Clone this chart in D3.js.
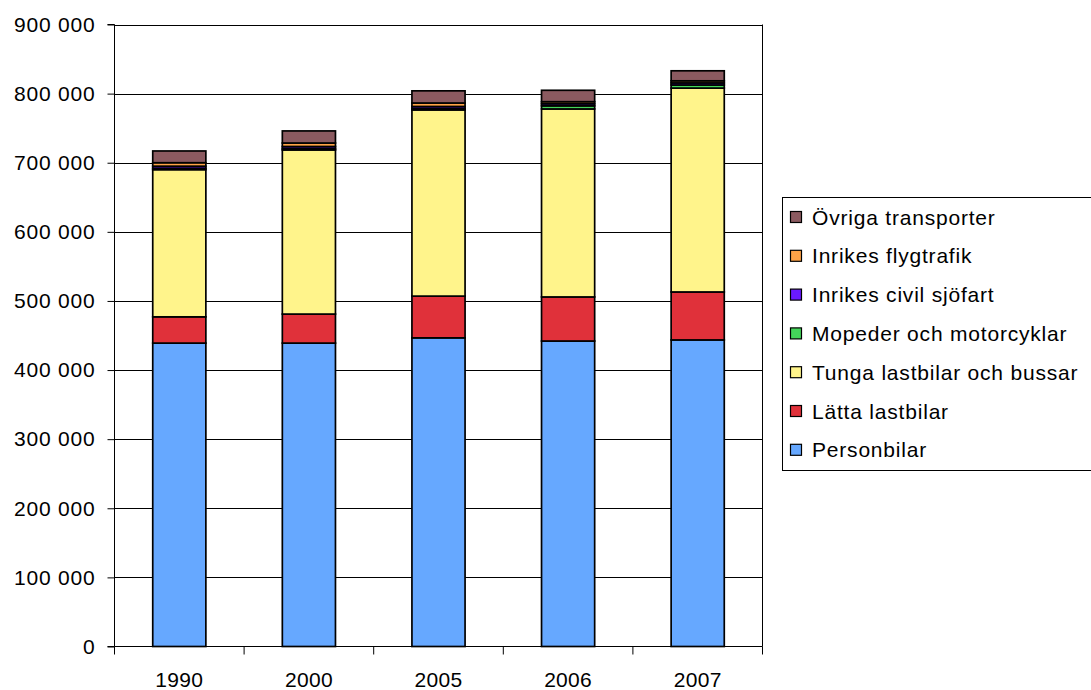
<!DOCTYPE html>
<html><head><meta charset="utf-8">
<script src="https://cdn.jsdelivr.net/npm/d3@7"></script>
<style>body{margin:0;background:#fff;} svg{display:block;font-family:"Liberation Sans",Arial,sans-serif;}</style>
</head><body><svg id="c" width="1091" height="690"></svg>
<script>
const years = ["1990","2000","2005","2006","2007"];
const seriesNames = ["Personbilar","Lätta lastbilar","Tunga lastbilar och bussar","Mopeder och motorcyklar","Inrikes civil sjöfart","Inrikes flygtrafik","Övriga transporter"];
const personbilar = [439000, 439000, 446600, 442000, 443600];
const lattaLastbilar = [38000, 42000, 60400, 63800, 69400];
const tungaLastbilar = [213000, 237500, 269400, 272000, 295000];
const mopeder = [2000, 2000, 2000, 4500, 4500];
const sjofart = [3000, 3000, 3000, 3000, 3000];
const flyg = [5000, 5000, 5000, 3000, 3000];
const ovriga = [17000, 17500, 17600, 16500, 14500];
const colors = ["#66a8ff","#e0313a","#fff48b","#44d65a","#6a1aff","#ffa347","#8b5a60"];
const yTicks = [0,100000,200000,300000,400000,500000,600000,700000,800000,900000];

const values = [personbilar, lattaLastbilar, tungaLastbilar, mopeder, sjofart, flyg, ovriga];
const rows = years.map((y,i)=>{const r={year:y}; seriesNames.forEach((s,k)=>r[s]=values[k][i]); return r;});
const stacked = d3.stack().keys(seriesNames)(rows);

const svg = d3.select("#c");
const L=114.5, R=762.5, T=24.5, B=646.5;
const x = d3.scaleBand().domain(years).range([L,R]);
const y = d3.scaleLinear().domain([0,900000]).range([B,T]);
const fmt = v => d3.format(",")(v).replace(/,/g," ");
const FS = 21, LS = 0.8;

// gridlines
svg.append("g").selectAll("line").data(yTicks.slice(1)).join("line")
  .attr("x1",L).attr("x2",R).attr("y1",d=>Math.round(y(d))+0.5).attr("y2",d=>Math.round(y(d))+0.5)
  .attr("stroke","#000").attr("stroke-width",1);
// right border
svg.append("line").attr("x1",R).attr("x2",R).attr("y1",T).attr("y2",B).attr("stroke","#000");

// bars
const bw = x.bandwidth()*0.41;
svg.append("g").selectAll("g").data(stacked).join("g").attr("fill",(d,i)=>colors[i])
  .selectAll("rect").data(d=>d).join("rect")
  .attr("x",d=>x(d.data.year)+x.bandwidth()/2-bw/2)
  .attr("width",bw)
  .attr("y",d=>y(d[1]))
  .attr("height",d=>Math.max(0,y(d[0])-y(d[1])))
  .attr("stroke","#000").attr("stroke-width",1.7);

// y axis
const ya = d3.axisLeft(y).tickValues(yTicks).tickFormat(fmt).tickSize(7).tickPadding(12);
const gy = svg.append("g").attr("transform",`translate(${L},0)`).call(ya);
gy.selectAll("text").attr("font-size",FS).attr("letter-spacing",LS).attr("fill","#000").attr("font-family","Liberation Sans, Arial, sans-serif");
gy.selectAll("line,path").attr("stroke","#000");
gy.select(".domain").attr("d",`M-7,${T}H0V${B}H-7`);

// x axis
const gx = svg.append("g").attr("transform",`translate(0,${B})`);
gx.append("line").attr("x1",L).attr("x2",R).attr("y1",0).attr("y2",0).attr("stroke","#000");
const bounds = years.map(d=>x(d)).concat([R]);
gx.selectAll(".tk").data(bounds).join("line").attr("class","tk")
  .attr("x1",d=>d).attr("x2",d=>d).attr("y1",0).attr("y2",8).attr("stroke","#000");
gx.selectAll("text").data(years).join("text")
  .attr("x",d=>x(d)+x.bandwidth()/2).attr("y",40.5).attr("text-anchor","middle")
  .attr("font-size",FS).attr("letter-spacing",0.3).attr("fill","#000").text(d=>d);

// legend
const lg = svg.append("g");
lg.append("rect").attr("x",782.5).attr("y",197.5).attr("width",320).attr("height",273).attr("fill","#fff").attr("stroke","#000");
const order = seriesNames.map((s,i)=>i).reverse();
const li = lg.selectAll("g.it").data(order).join("g").attr("class","it")
  .attr("transform",(d,j)=>`translate(790,${217+j*38.8})`);
li.append("rect").attr("x",0.5).attr("y",-5.5).attr("width",11).attr("height",11)
  .attr("fill",d=>colors[d]).attr("stroke","#000").attr("stroke-width",1.2);
li.append("text").attr("x",22).attr("y",7.5).attr("font-size",FS).attr("letter-spacing",LS).attr("fill","#000").text(d=>seriesNames[d]);
</script></body></html>
